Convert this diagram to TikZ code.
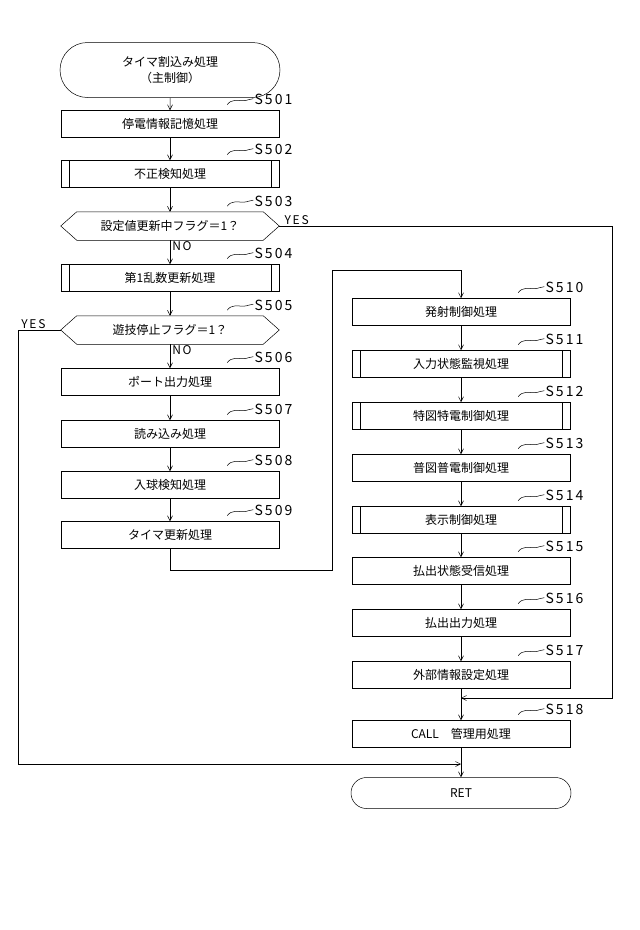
\documentclass[tikz,border=0pt]{standalone}
\usepackage{fontspec}
\setmainfont{Noto Sans CJK JP}
\newfontfamily\lbl[LetterSpace=15]{Noto Sans CJK JP}
\usetikzlibrary{shapes.misc,arrows.meta}
\begin{document}
\begin{tikzpicture}[x=1pt,y=-1pt,
  box/.style={draw,minimum width=218pt,minimum height=27pt,inner sep=0pt,font=\fontsize{12}{13}\selectfont},
  hexn/.style={minimum width=218pt,minimum height=28pt,inner sep=0pt,font=\fontsize{12}{13}\selectfont},
  term/.style={draw,rounded rectangle,minimum width=220pt,inner sep=0pt,font=\fontsize{12}{16}\selectfont,align=center},
  stp/.style={font=\lbl\fontsize{14}{14}\selectfont,anchor=south west,inner sep=0pt},
  flow/.style={-{Straight Barb[length=5pt,width=5pt]},line width=0.5pt},
  yn/.style={font=\lbl\fontsize{12}{12}\selectfont,inner sep=1pt}]
\useasboundingbox (0,0) rectangle (640,930);
\tikzset{every path/.style={line width=0.5pt}}
% left column
\node[term,minimum height=55pt] (st) at (170,70) {タイマ割込み処理\\（主制御）};
\node[box] (s501) at (170,124) {停電情報記憶処理};
\node[box] (s502) at (170,174) {不正検知処理};
\node[hexn] (s503) at (170,226) {設定値更新中フラグ＝1？};
\node[box] (s504) at (170,278) {第1乱数更新処理};
\node[hexn] (s505) at (170,330) {遊技停止フラグ＝1？};
\node[box] (s506) at (170,382) {ポート出力処理};
\node[box] (s507) at (170,434) {読み込み処理};
\node[box] (s508) at (170,485) {入球検知処理};
\node[box] (s509) at (170,535) {タイマ更新処理};
% right column
\node[box] (s510) at (461,312) {発射制御処理};
\node[box] (s511) at (461,364) {入力状態監視処理};
\node[box] (s512) at (461,416) {特図特電制御処理};
\node[box] (s513) at (461,468) {普図普電制御処理};
\node[box] (s514) at (461,520) {表示制御処理};
\node[box] (s515) at (461,571) {払出状態受信処理};
\node[box] (s516) at (461,623) {払出出力処理};
\node[box] (s517) at (461,675) {外部情報設定処理};
\node[box] (s518) at (461,734) {CALL\quad 管理用処理};
\node[term,minimum height=31pt] (ret) at (461,793) {RET};
% subroutine bars
\foreach \n in {s502,s504,s511,s512,s514}{
  \draw ([xshift=8pt]\n.north west) -- ([xshift=8pt]\n.south west);
  \draw ([xshift=-8pt]\n.north east) -- ([xshift=-8pt]\n.south east);}
% hexagons
\foreach \n in {s503,s505}{
  \draw (\n.west) -- ([xshift=16pt]\n.north west) -- ([xshift=-16pt]\n.north east) -- (\n.east)
   -- ([xshift=-16pt]\n.south east) -- ([xshift=16pt]\n.south west) -- cycle;}
% step labels
\foreach \n/\t in {s501/S501,s502/S502,s503/S503,s504/S504,s505/S505,s506/S506,s507/S507,s508/S508,s509/S509,
  s510/S510,s511/S511,s512/S512,s513/S513,s514/S514,s515/S515,s516/S516,s517/S517,s518/S518}{
  \node[stp] (l\n) at ([xshift=-25pt,yshift=5pt]\n.north east) {\t};
  \draw ([xshift=-27pt,yshift=-5pt]l\n.west) .. controls ([xshift=-23pt,yshift=1pt]l\n.west) and ([xshift=-16pt,yshift=-1pt]l\n.west) .. ([xshift=-11pt,yshift=-1pt]l\n.west)
     .. controls ([xshift=-7pt,yshift=-1pt]l\n.west) and ([xshift=-4pt,yshift=1pt]l\n.west) .. ([xshift=-1pt,yshift=1pt]l\n.west);}
% flows
\draw[flow] (st) -- (s501);
\draw[flow] (s501) -- (s502);
\draw[flow] (s502) -- (s503);
\draw[flow] (s503) -- (s504);
\draw[flow] (s504) -- (s505);
\draw[flow] (s505) -- (s506);
\draw[flow] (s506) -- (s507);
\draw[flow] (s507) -- (s508);
\draw[flow] (s508) -- (s509);
\coordinate (c1) at (170,570);
\coordinate (c2) at (332,570);
\coordinate (c3) at (332,270);
\coordinate (c4) at (461,270);
\draw[flow] (s509.south) -- (c1) -- (c2) -- (c3) -- (c4) -- (s510.north);
\draw[flow] (s510) -- (s511);
\draw[flow] (s511) -- (s512);
\draw[flow] (s512) -- (s513);
\draw[flow] (s513) -- (s514);
\draw[flow] (s514) -- (s515);
\draw[flow] (s515) -- (s516);
\draw[flow] (s516) -- (s517);
\draw[flow] (s517) -- (s518);
\draw[flow] (s518) -- (ret);
% YES branches
\coordinate (j1) at (461,698);
\coordinate (y1) at (612,226);
\coordinate (y2) at (612,698);
\draw[flow] (s503.east) -- (y1) -- (y2) -- (j1);
\coordinate (j2) at (461,764);
\coordinate (z1) at (18,330);
\coordinate (z2) at (18,764);
\draw[flow] (s505.west) -- (z1) -- (z2) -- (j2);
\node[yn,anchor=south west] (ty1) at ([xshift=4pt]s503.east) {YES};
\node[yn,anchor=south west] (ty2) at ([xshift=2pt]z1) {YES};
\node[yn,anchor=north west] (tn1) at ([xshift=1pt]s503.south) {NO};
\node[yn,anchor=north west] (tn2) at ([xshift=1pt]s505.south) {NO};
\end{tikzpicture}
\end{document}
